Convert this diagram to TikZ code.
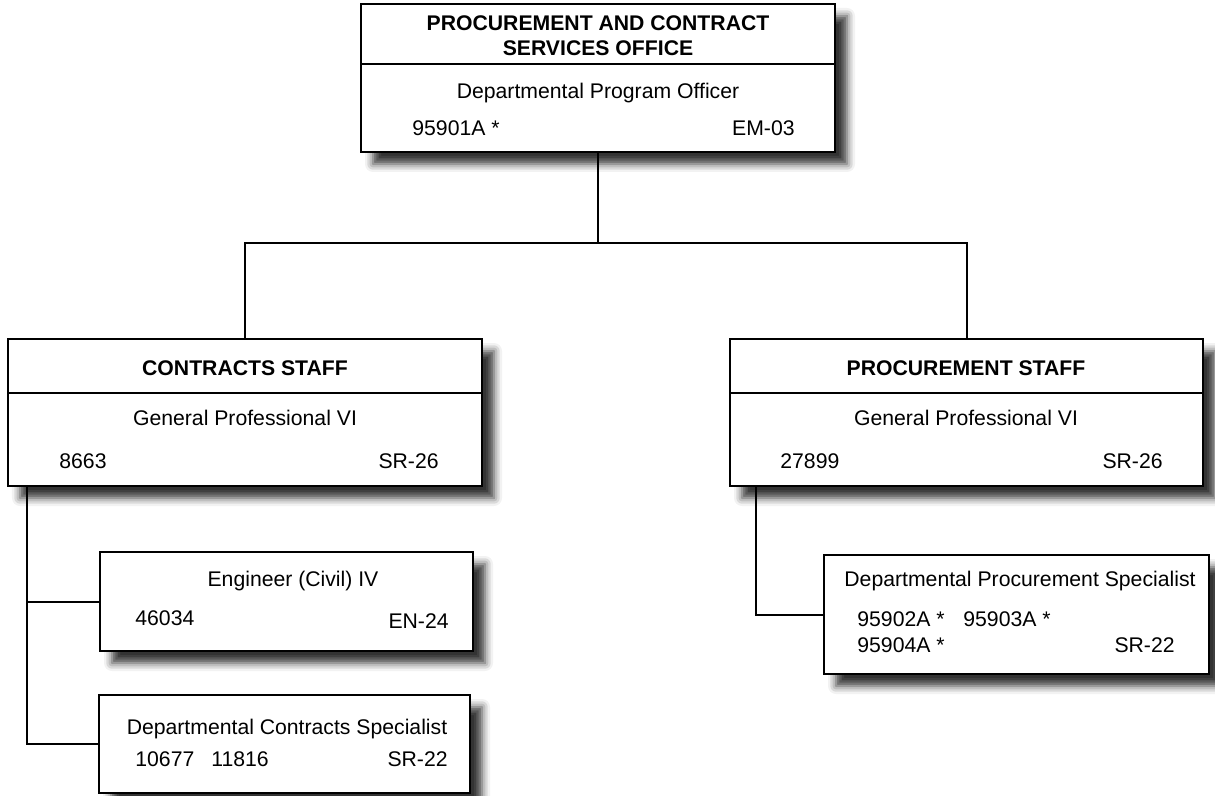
\documentclass[tikz,border=0pt]{standalone}
\usepackage{fontspec}
\setmainfont{Liberation Sans}
\usetikzlibrary{fit, shadows.blur}

\begin{document}
\begin{tikzpicture}[
    x=0.5pt, y=-0.5pt,
    font=\fontsize{10.6}{12.5}\selectfont,
    box/.style={draw, line width=1pt, fill=white, inner sep=0pt,
        blur shadow={shadow xshift=6pt, shadow yshift=-6pt,
            shadow blur radius=4pt, shadow opacity=80}},
    wire/.style={line width=1pt},
    txt/.style={inner sep=0pt, text height=.716em, text depth=0pt},
    head/.style={inner sep=0pt, align=center, font=\fontsize{10.6}{12.5}\selectfont\bfseries},
    ]
    \useasboundingbox (0,0) rectangle (1215,796);

    % boxes
    \node[box, fit={(361,4)(835,152)}] (office) {};
    \node[box, fit={(8,339)(482,486)}] (cstaff) {};
    \node[box, fit={(730,339)(1203,486)}] (pstaff) {};
    \node[box, fit={(100,552)(473,651)}] (eng) {};
    \node[box, fit={(99,695)(470,793)}] (dcs) {};
    \node[box, fit={(824,555)(1209,674)}] (dps) {};
    \draw[line width=1pt] (office.west |- 0,64) -- (office.east |- 0,64);
    \draw[line width=1pt] (cstaff.west |- 0,393) -- (cstaff.east |- 0,393);
    \draw[line width=1pt] (pstaff.west |- 0,393) -- (pstaff.east |- 0,393);

    % office
    \node[head] (office-h) at (598,36) {PROCUREMENT AND CONTRACT\\SERVICES OFFICE};
    \node[txt] (office-r) at (598,91) {Departmental Program Officer};
    \node[txt, anchor=west] (office-n) at (412,128) {95901A *};
    \node[txt, anchor=east] (office-g) at (795,128) {EM-03};

    % contracts staff
    \node[head] (cstaff-h) at (245,368) {CONTRACTS STAFF};
    \node[txt] (cstaff-r) at (245,418) {General Professional VI};
    \node[txt, anchor=west] (cstaff-n) at (59,461) {8663};
    \node[txt, anchor=east] (cstaff-g) at (439,461) {SR-26};

    % procurement staff
    \node[head] (pstaff-h) at (966,368) {PROCUREMENT STAFF};
    \node[txt] (pstaff-r) at (966,418) {General Professional VI};
    \node[txt, anchor=west] (pstaff-n) at (780,461) {27899};
    \node[txt, anchor=east] (pstaff-g) at (1163,461) {SR-26};

    % engineer
    \node[txt] (eng-r) at (293,579) {Engineer (Civil) IV};
    \node[txt, anchor=west] (eng-n) at (135,618) {46034};
    \node[txt, anchor=east] (eng-g) at (449,621) {EN-24};

    % contracts specialist
    \node[txt] (dcs-r) at (287,727) {Departmental Contracts Specialist};
    \node[txt, anchor=west] (dcs-n) at (135,759) {10677\hspace{.8em}11816};
    \node[txt, anchor=east] (dcs-g) at (448,759) {SR-22};

    % procurement specialist
    \node[txt] (dps-r) at (1020,579) {Departmental Procurement Specialist};
    \node[txt, anchor=west] (dps-n1) at (857,619) {95902A *};
    \node[txt, anchor=west] (dps-n2) at (963,619) {95903A *};
    \node[txt, anchor=west] (dps-n3) at (857,645) {95904A *};
    \node[txt, anchor=east] (dps-g) at (1175,645) {SR-22};

    % lines
    \coordinate (bus) at (598,243);
    \coordinate (ctrunk) at (27,486);
    \coordinate (ptrunk) at (756,486);
    \draw[wire] (office.south) -- (bus);
    \draw[wire] (cstaff.north) |- (bus) -| (pstaff.north);
    \draw[wire] (ctrunk) |- (eng.west);
    \draw[wire] (ctrunk) |- (dcs.west);
    \draw[wire] (ptrunk) |- (dps.west);
\end{tikzpicture}
\end{document}
